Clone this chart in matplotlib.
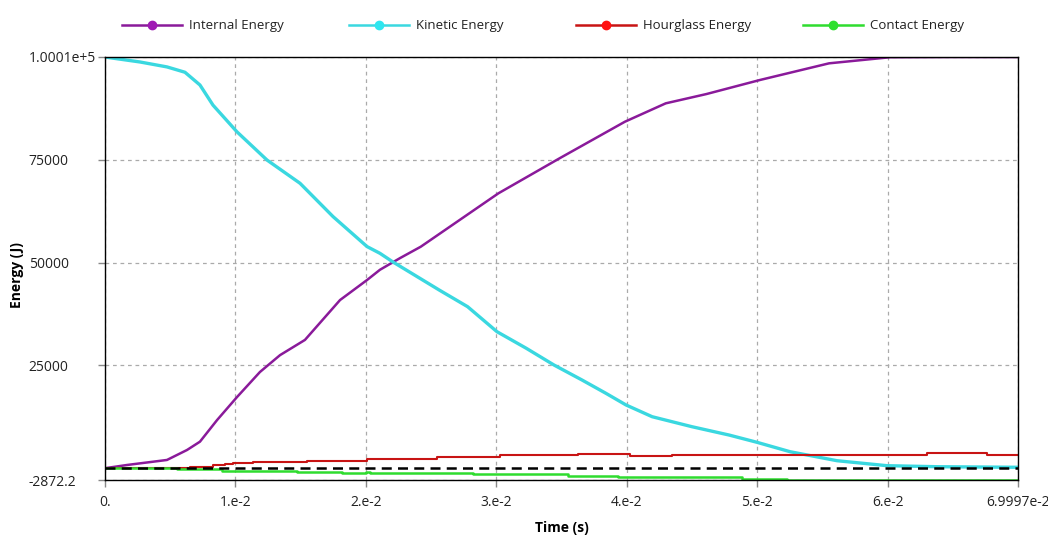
import matplotlib
matplotlib.use("Agg")
import matplotlib.pyplot as plt
from matplotlib.lines import Line2D

plt.rcParams["font.family"] = ["Open Sans", "DejaVu Sans"]

# time axis limits and tick labels (s)
t_end = 0.069997
x_ticks = [0.0, 0.01, 0.02, 0.03, 0.04, 0.05, 0.06, t_end]
x_tick_labels = ["0.", "1.e-2", "2.e-2", "3.e-2", "4.e-2", "5.e-2", "6.e-2", "6.9997e-2"]
y_min, y_max = -2872.2, 100010.0
y_ticks = [y_min, 25000, 50000, 75000, y_max]
y_tick_labels = ["-2872.2", "25000", "50000", "75000", "1.0001e+5"]

# internal energy (J)
t_internal = [0.0, 0.00169, 0.00475, 0.00629, 0.00728, 0.00859, 0.01012, 0.01188,
              0.01342, 0.01533, 0.01802, 0.02009, 0.02108, 0.02262, 0.02421, 0.03016,
              0.03485, 0.03986, 0.04299, 0.04611, 0.05019, 0.05551, 0.06018, 0.065, t_end]
e_internal = [0, 780, 2000, 4430, 6450, 11700, 17300, 23400,
              27500, 31200, 40900, 45770, 48260, 51100, 53870, 66850,
              75370, 84270, 88740, 91000, 94400, 98470, 99950, 100010, 100000]

# kinetic energy (J)
t_kinetic = [0.0, 0.00268, 0.00475, 0.00613, 0.00728, 0.00828, 0.01012, 0.01242,
             0.01495, 0.01748, 0.02009, 0.02108, 0.02208, 0.02562, 0.0278, 0.03005,
             0.0323, 0.03442, 0.03657, 0.0384, 0.03995, 0.04195, 0.04500, 0.04784,
             0.04998, 0.05252, 0.05612, 0.05865, 0.05995, 0.06379, t_end]
e_kinetic = [100000, 98800, 97600, 96300, 93200, 88300, 81800, 74950,
             69300, 61200, 53900, 52260, 50150, 43340, 39280, 33200,
             29160, 25100, 21450, 18220, 15370, 12520, 10090, 8070,
             6300, 4010, 1820, 1020, 610, 360, 220]

# hourglass energy (J), stepwise
t_hourglass = [0.0, 0.00345, 0.0065, 0.00828, 0.0092, 0.00981, 0.01135, 0.01549,
               0.02009, 0.02545, 0.03028, 0.03626, 0.04025, 0.04347, 0.06302, 0.06762, t_end]
e_hourglass = [0, 100, 300, 780, 1000, 1190, 1430, 1820,
               2240, 2800, 3130, 3380, 3040, 3280, 3620, 3210, 3210]

# contact energy (J), stepwise
t_contact = [0.0, 0.0055, 0.0090, 0.0147, 0.0182, 0.0200, 0.0203, 0.0282,
             0.0355, 0.0393, 0.0488, 0.0523, t_end]
e_contact = [0, -270, -610, -1000, -1240, -1000, -1240, -1480,
             -1820, -2210, -2630, -2872.2, -2872.2]

series = [
    ("Internal Energy", "#8a1a9a", "#a01ab4"),
    ("Kinetic Energy", "#3ad8e0", "#2ee6f0"),
    ("Hourglass Energy", "#c81414", "#ff1010"),
    ("Contact Energy", "#2fdc2f", "#2fe02f"),
]

fig = plt.figure(figsize=(10.48, 5.35), dpi=100)
ax = fig.add_axes([105 / 1048, 1 - 480 / 535, 913 / 1048, 423 / 535])

ax.plot(t_internal, e_internal, color=series[0][1], lw=1.8, zorder=2)
ax.plot(t_kinetic, e_kinetic, color=series[1][1], lw=2.4, zorder=2)
ax.plot(t_hourglass, e_hourglass, color=series[2][1], lw=1.5, drawstyle="steps-post", zorder=2)
ax.plot(t_contact, e_contact, color=series[3][1], lw=1.8, drawstyle="steps-post", zorder=2)
ax.axhline(0, color="black", lw=1.8, linestyle=(0, (4, 2.5)), zorder=3)

ax.set_xlim(0, t_end)
ax.set_ylim(y_min, y_max)
ax.set_xticks(x_ticks)
ax.set_xticklabels(x_tick_labels)
ax.set_yticks(y_ticks)
ax.set_yticklabels(y_tick_labels, ha="left")

ax.tick_params(axis="both", length=5, width=1, color="#888888", labelsize=10, labelcolor="#222222")
ax.tick_params(axis="y", pad=50)
ax.tick_params(axis="x", pad=6)
ax.grid(True, color="#aaaaaa", linestyle=(0, (3, 3)), linewidth=0.9)
for sp in ax.spines.values():
    sp.set_color("black")
    sp.set_linewidth(1.0)

ax.set_xlabel("Time (s)", fontsize=10, fontweight="bold", labelpad=8)
fig.text(17 / 1048, 1 - 275 / 535, "Energy (J)", rotation=90, ha="center", va="center",
         fontsize=10, fontweight="bold")

# legend row across the top, equal slots
y_leg = 1 - 25 / 535
for i, (name, col, mcol) in enumerate(series):
    x0 = (122 + i * 227) / 1048
    x1 = x0 + 60 / 1048
    fig.add_artist(Line2D([x0, x1], [y_leg, y_leg], color=col, lw=1.8,
                          transform=fig.transFigure))
    fig.add_artist(Line2D([(x0 + x1) / 2], [y_leg], color=mcol, marker="o",
                          markersize=6, transform=fig.transFigure))
    fig.text(x1 + 7 / 1048, y_leg, name, ha="left", va="center", fontsize=9.5, color="#222222")

fig.savefig("out.png", dpi=100)
